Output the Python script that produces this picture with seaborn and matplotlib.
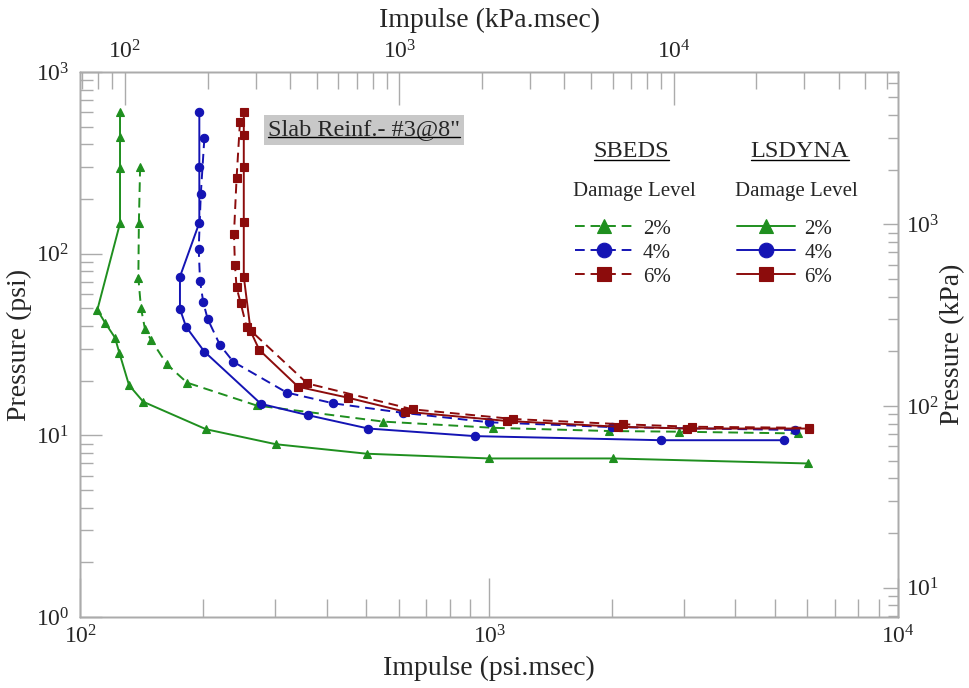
import matplotlib
matplotlib.use("Agg")
import matplotlib.pyplot as plt
import seaborn as sns
import numpy as np
from matplotlib.ticker import LogLocator, LogFormatterMathtext, NullFormatter
from matplotlib.lines import Line2D

# ---------------- data (psi.msec, psi) ----------------
sbeds_2_x = [140, 139, 138.6, 140.7, 143.9, 148.8, 162.8, 182.3, 269.7, 551, 1023, 1967, 2917, 5703]
sbeds_2_y = [301, 147.5, 73.6, 50, 38.4, 33.6, 24.6, 19.5, 14.6, 11.9, 11.0, 10.56, 10.47, 10.24]

sbeds_4_x = [201, 197, 194.7, 196.2, 199.8, 204.8, 219.5, 236.6, 319.7, 415.6, 615, 1000, 2000, 5600]
sbeds_4_y = [431, 212, 106, 70.7, 53.9, 43.7, 31.4, 25.4, 17.2, 15.0, 13.3, 11.8, 11.1, 10.7]

sbeds_6_x = [245.7, 241, 237.5, 238.8, 241, 246.7, 255, 359, 650, 1146, 2129, 3130, 6067]
sbeds_6_y = [533, 260, 128, 86.7, 65.2, 53.2, 39.6, 19.3, 13.9, 12.3, 11.5, 11.15, 11.0]

lsdyna_2_x = [125, 125, 125, 125, 110, 114.9, 121.5, 124.5, 131.5, 142.5, 203, 301, 502, 1000, 2012, 6034]
lsdyna_2_y = [601, 441, 296, 147, 49.0, 41.7, 34.5, 28.5, 18.9, 15.3, 10.8, 8.93, 7.92, 7.46, 7.46, 7.0]

lsdyna_4_x = [195.4, 195.4, 195.4, 175.2, 175.2, 181.3, 201, 276.5, 361, 506, 923, 2633, 5262]
lsdyna_4_y = [600, 300, 148, 74.7, 49.6, 39.6, 28.9, 14.9, 12.9, 10.9, 9.9, 9.4, 9.4]

lsdyna_6_x = [251, 251, 251, 251, 251, 261, 274, 341, 452, 622, 1104, 2069, 3042, 6067]
lsdyna_6_y = [600, 450, 300, 149, 74.7, 37.3, 29.5, 18.5, 16.1, 13.5, 12.0, 11.15, 10.9, 10.9]

damage_levels = ["2%", "4%", "6%"]
x_label_bottom = "Impulse (psi.msec)"
x_label_top = "Impulse (kPa.msec)"
y_label_left = "Pressure (psi)"
y_label_right = "Pressure (kPa)"
box_text = 'Slab Reinf.- #3@8"'

GREEN = "#1f8f1f"
BLUE = "#1414b4"
RED = "#8c0c0c"
FRAME = "#ababab"

# ---------------- style ----------------
sns.set_style("ticks")
plt.rcParams["font.family"] = ["Liberation Serif", "DejaVu Serif"]
plt.rcParams["mathtext.fontset"] = "custom"
plt.rcParams["mathtext.rm"] = "Liberation Serif"
plt.rcParams["mathtext.it"] = "Liberation Serif:italic"
plt.rcParams["mathtext.bf"] = "Liberation Serif:bold"

fig = plt.figure(figsize=(9.69, 6.88), dpi=100)
L, R, T, B = 80.4, 898.0, 72.0, 617.0
W, H = 969.0, 688.0
ax = fig.add_axes([L / W, (H - B) / H, (R - L) / W, (B - T) / H])
ax.set_xscale("log")
ax.set_yscale("log")

series = [
    (sbeds_2_x, sbeds_2_y, GREEN, "^", "--"),
    (sbeds_4_x, sbeds_4_y, BLUE, "o", "--"),
    (sbeds_6_x, sbeds_6_y, RED, "s", "--"),
    (lsdyna_2_x, lsdyna_2_y, GREEN, "^", "-"),
    (lsdyna_4_x, lsdyna_4_y, BLUE, "o", "-"),
    (lsdyna_6_x, lsdyna_6_y, RED, "s", "-"),
]
handles = []
for xs, ys, c, m, ls in series:
    sns.lineplot(x=xs, y=ys, sort=False, estimator=None, color=c, marker=m,
                 markersize=6, markeredgecolor=c, markerfacecolor=c,
                 markeredgewidth=0.8, linestyle=ls, linewidth=1.4, ax=ax)
    ln = ax.get_lines()[-1]
    if ls == "--":
        ln.set_dashes((5, 3))
    handles.append(ln)

ax.set_xlim(100, 1e4)
ax.set_ylim(1, 1e3)

# twin axes
ax_top = ax.twiny()
ax_top.set_xscale("log")
ax_top.set_xlim(68.8, 65800)
ax_right = ax.twinx()
ax_right.set_yscale("log")
ax_right.set_ylim(6.895, 6895)

for a in (ax, ax_top, ax_right):
    for s in a.spines.values():
        s.set_color(FRAME)
        s.set_linewidth(1.0)

def fmt_axis(axis):
    axis.set_major_locator(LogLocator(base=10))
    axis.set_minor_locator(LogLocator(base=10, subs=np.arange(2, 10)))
    axis.set_major_formatter(LogFormatterMathtext())
    axis.set_minor_formatter(NullFormatter())

for axis in (ax.xaxis, ax.yaxis, ax_top.xaxis, ax_right.yaxis):
    fmt_axis(axis)

ax.tick_params(axis="x", which="major", direction="in", length=28, width=1, color=FRAME,
               labelsize=17, pad=6, bottom=True, top=False)
ax.tick_params(axis="x", which="minor", direction="in", length=13, width=1, color=FRAME,
               bottom=True, top=False)
ax.tick_params(axis="y", which="major", direction="in", length=16, width=1, color=FRAME,
               labelsize=17, pad=8, left=True, right=False)
ax.tick_params(axis="y", which="minor", direction="in", length=9, width=1, color=FRAME,
               left=True, right=False)
ax_top.tick_params(axis="x", which="major", direction="in", length=24, width=1, color=FRAME,
                   labelsize=17, pad=6)
ax_top.tick_params(axis="x", which="minor", direction="in", length=12, width=1, color=FRAME)
ax_right.tick_params(axis="y", which="major", direction="in", length=11, width=1, color=FRAME,
                     labelsize=17, pad=6)
ax_right.tick_params(axis="y", which="minor", direction="in", length=7, width=1, color=FRAME)

ax.set_xlabel(x_label_bottom, fontsize=20)
ax.xaxis.set_label_coords(0.5, -0.072)
ax.set_ylabel(y_label_left, fontsize=20)
ax.yaxis.set_label_coords(-0.059, 0.5)
ax_top.set_xlabel(x_label_top, fontsize=20)
ax_top.xaxis.set_label_coords(0.5, 1.083)
ax_right.set_ylabel(y_label_right, fontsize=20)
ax_right.yaxis.set_label_coords(1.052, 0.5)

# annotation box
t_box = ax.text(0.347, 0.8936, box_text, transform=ax.transAxes, ha="center", va="center",
                fontsize=17.5, bbox=dict(facecolor="#c8c8c8", edgecolor="none", pad=3))

# legend headings
t_sb = ax.text(0.674, 0.8538, "SBEDS", transform=ax.transAxes, ha="center", va="center", fontsize=17.5)
t_ls = ax.text(0.880, 0.8538, "LSDYNA", transform=ax.transAxes, ha="center", va="center", fontsize=17.5)
ax.text(0.6777, 0.7804, "Damage Level", transform=ax.transAxes, ha="center", va="center", fontsize=15)
ax.text(0.8761, 0.7804, "Damage Level", transform=ax.transAxes, ha="center", va="center", fontsize=15)

leg_kw = dict(loc="upper left", frameon=False, fontsize=15, handlelength=2.8,
              handletextpad=0.45, labelspacing=0.21, borderpad=0, borderaxespad=0,
              markerscale=1.75)
leg1 = ax.legend(handles[:3], damage_levels, bbox_to_anchor=(0.605, 0.730), **leg_kw)
ax.add_artist(leg1)
leg2 = ax.legend(handles[3:], damage_levels, bbox_to_anchor=(0.8027, 0.730), **leg_kw)

# underlines
fig.canvas.draw()
inv = fig.transFigure.inverted()
for t, frac in ((t_sb, 0.12), (t_ls, 0.12), (t_box, 0.16)):
    bb = t.get_window_extent(renderer=fig.canvas.get_renderer())
    y = bb.y0 + frac * bb.height
    (x0, yy), (x1, _) = inv.transform([(bb.x0, y), (bb.x1, y)])
    fig.add_artist(Line2D([x0, x1], [yy, yy], transform=fig.transFigure, color="black", lw=1.0))

fig.savefig("out.png", dpi=100)
